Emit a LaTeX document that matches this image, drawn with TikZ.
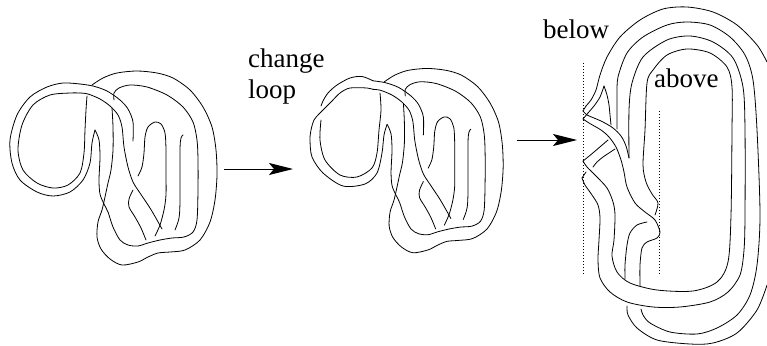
\documentclass[tikz,border=0pt]{standalone}
\usepackage{fontspec}
\setmainfont{Liberation Serif}
\usetikzlibrary{arrows.meta}
\tikzset{
  knotline/.style={line width=0.8pt, line cap=round, line join=round},
  guide/.style={line width=0.7pt, dash pattern=on 0.7pt off 2.3pt},
  flowarrow/.style={line width=1pt, -{Stealth[length=24pt,width=12pt,inset=5pt]}},
  txtlabel/.style={anchor=base west, inner sep=0pt, font=\fontsize{27}{31}\selectfont},
}
\newcommand\KnotRightPart{%
  \draw[knotline] plot[smooth] coordinates {(133,141) (133,122) (128,109) (120,100) (107,91) (93,86) (80,84)};
  \draw[knotline] plot[smooth] coordinates {(95,130) (99,140) (100,157) (99,180) (100,194) (104,204) (108,212) (113,227) (120,240) (128,245) (138,246) (148,243) (160,240) (172,238) (184,237) (193,232) (197,220) (198,190) (198,160) (197,140) (193,122) (183,107) (167,95) (147,87) (130,85) (119,88) (114,93) (114,100)};
  \draw[knotline] plot[smooth] coordinates {(162,229) (157,220) (150,208) (140,193) (133,182) (128,167) (124,147) (122,127) (118,115) (110,106) (100,99) (88,94) (80,93)};
  \draw[knotline] plot[smooth] coordinates {(92,85) (103,78) (117,73) (137,71) (157,73) (173,78) (190,90) (203,107) (212,127) (216,150) (217,175) (215,200) (210,222) (200,240) (185,250) (170,252) (158,253) (148,257) (138,262) (122,265) (110,259) (101,249) (97,237) (98,222) (102,210) (105,197) (108,183) (111,170) (113,150) (113,127) (112,108)};
  \draw[knotline] plot[smooth] coordinates {(138,176) (142,167) (144,153) (145,137) (148,127) (155,122) (161,124) (165,133) (166,150) (166,175) (166,195) (164,210) (160,225) (155,236)};
  \draw[knotline] plot[smooth] coordinates {(133,190) (129,199) (129,207) (135,217) (141,228) (146,240)};
  \draw[knotline] plot[smooth] coordinates {(183,135) (181,138) (180,150) (180,200) (179,218) (175,230)};
}
\begin{document}
\begin{tikzpicture}[x=1pt,y=-1pt]
\useasboundingbox (0,0) rectangle (767,345);
\clip (0,0) rectangle (767,345);

% ---------- knot 1 ----------
\draw[knotline] plot[smooth] coordinates {(80,84) (63,83) (47,87) (30,97) (17,115) (10,140) (12,163) (20,180) (37,192) (53,196) (70,192) (83,180) (90,163) (92,143) (95,130)};
\draw[knotline] plot[smooth] coordinates {(80,93) (70,93) (50,95) (33,105) (22,125) (18,150) (23,170) (37,183) (53,188) (68,185) (80,173) (84,153) (85,130) (86,110) (87,96)};
\KnotRightPart

% ---------- knot 2 ----------
\draw[knotline] plot[smooth] coordinates {(373,80.8) (362,76.5) (350,78) (337,85) (328,93) (323,101) (321,106)};
\draw[knotline] plot[smooth] coordinates {(373,89.4) (367,88) (350,88) (340,93) (332,101) (325,108) (319,114) (314,120) (311,130) (310,140) (312,157) (323,173) (343,186) (365,184) (377,173) (382,153) (384,135) (387,124.5)};
\draw[knotline] plot[smooth] coordinates {(321,120) (320,140) (325,160) (340,175) (357,177) (372,168) (377,153) (379,130) (381,110) (380,93)};
\begin{scope}[shift={(297,1)}, scale=0.95]
  \KnotRightPart
\end{scope}

% ---------- knot 3 ----------
\draw[knotline] plot[smooth] coordinates {(767,62) (757,45) (737,25) (713,12) (687,7) (663,9) (640,20) (620,37) (607,57) (600,75) (596,90) (591,100) (586,106) (583,111)};
\draw[knotline] plot[smooth] coordinates {(583,111) (587,115) (594,118) (603,122) (613,128) (621,136) (626,146) (629,158)};
\draw[knotline] plot[smooth] coordinates {(582,178) (585,185) (592,195) (598,205) (600,218) (599,240) (598,260) (600,278) (610,292) (627,302) (653,307) (680,307) (710,302) (728,292) (740,275) (744,250) (745,215) (745,130) (743,87) (733,58) (713,42) (690,36) (667,40) (643,57) (632,83) (629,110) (629,158)};
\draw[knotline] plot[smooth] coordinates {(586,172) (582,178)};
\draw[knotline] plot[smooth] coordinates {(608,140) (601,146) (594,152) (588,157) (583,161)};
\draw[knotline] plot[smooth] coordinates {(583,161) (587,167) (595,175) (607,188) (613,202) (615,215) (614,240) (612,256) (617,272) (630,283) (657,290) (693,291) (717,282) (728,262) (731,215) (732,130) (732,87) (727,67) (710,53) (687,49) (667,55) (653,70) (647,83) (645,130) (643,165) (646,182) (652,194) (658,203) (655,215)};
\draw[knotline] plot[smooth] coordinates {(604,86) (600,97) (594,106) (588,113) (583,119)};
\draw[knotline] plot[smooth] coordinates {(583,119) (589,123) (601,130) (609,137) (616,147) (621,160) (624,172) (627,187) (635,203) (645,212) (655,220) (660,232) (657,238) (647,242) (642,248) (640,265) (640,286)};
\draw[knotline] plot[smooth] coordinates {(604,86) (607,95) (609,105) (610,115) (611,125)};
\draw[knotline] plot[smooth] coordinates {(617,129) (617,110) (617,95) (618,77) (627,53) (643,37) (667,25) (687,22) (710,25) (730,37) (745,55) (753,80) (757,130) (760,215) (757,265) (750,295) (737,315) (717,328) (697,334) (670,332) (650,323) (643,315) (641,309)};
\draw[knotline] plot[smooth] coordinates {(615,149) (609,153) (603,157) (597,162) (593,167)};
\draw[knotline] plot[smooth] coordinates {(647,222) (637,225) (630,233) (627,245) (625,265) (625,279)};
\draw[knotline] plot[smooth] coordinates {(627,306) (628,315) (637,328) (657,340) (690,344) (713,343) (737,333) (757,310) (767,285)};

% dotted guide lines
\coordinate (d1t) at (583,63);
\coordinate (d1b) at (583,275);
\coordinate (d2t) at (659,111);
\coordinate (d2b) at (659,275);
\draw[guide] (d1t) -- (d1b);
\draw[guide] (d2t) -- (d2b);

% arrows
\coordinate (a1s) at (224,169);
\coordinate (a1e) at (293,169);
\coordinate (a2s) at (517,140);
\coordinate (a2e) at (577,140);
\draw[flowarrow] (a1s) -- (a1e);
\draw[flowarrow] (a2s) -- (a2e);

% labels
\node[txtlabel] (tchange) at (248,67) {change};
\node[txtlabel] (tloop) at (248,98) {loop};
\node[txtlabel] (tbelow) at (543,39) {below};
\node[txtlabel] (tabove) at (654,87) {above};
\end{tikzpicture}
\end{document}
